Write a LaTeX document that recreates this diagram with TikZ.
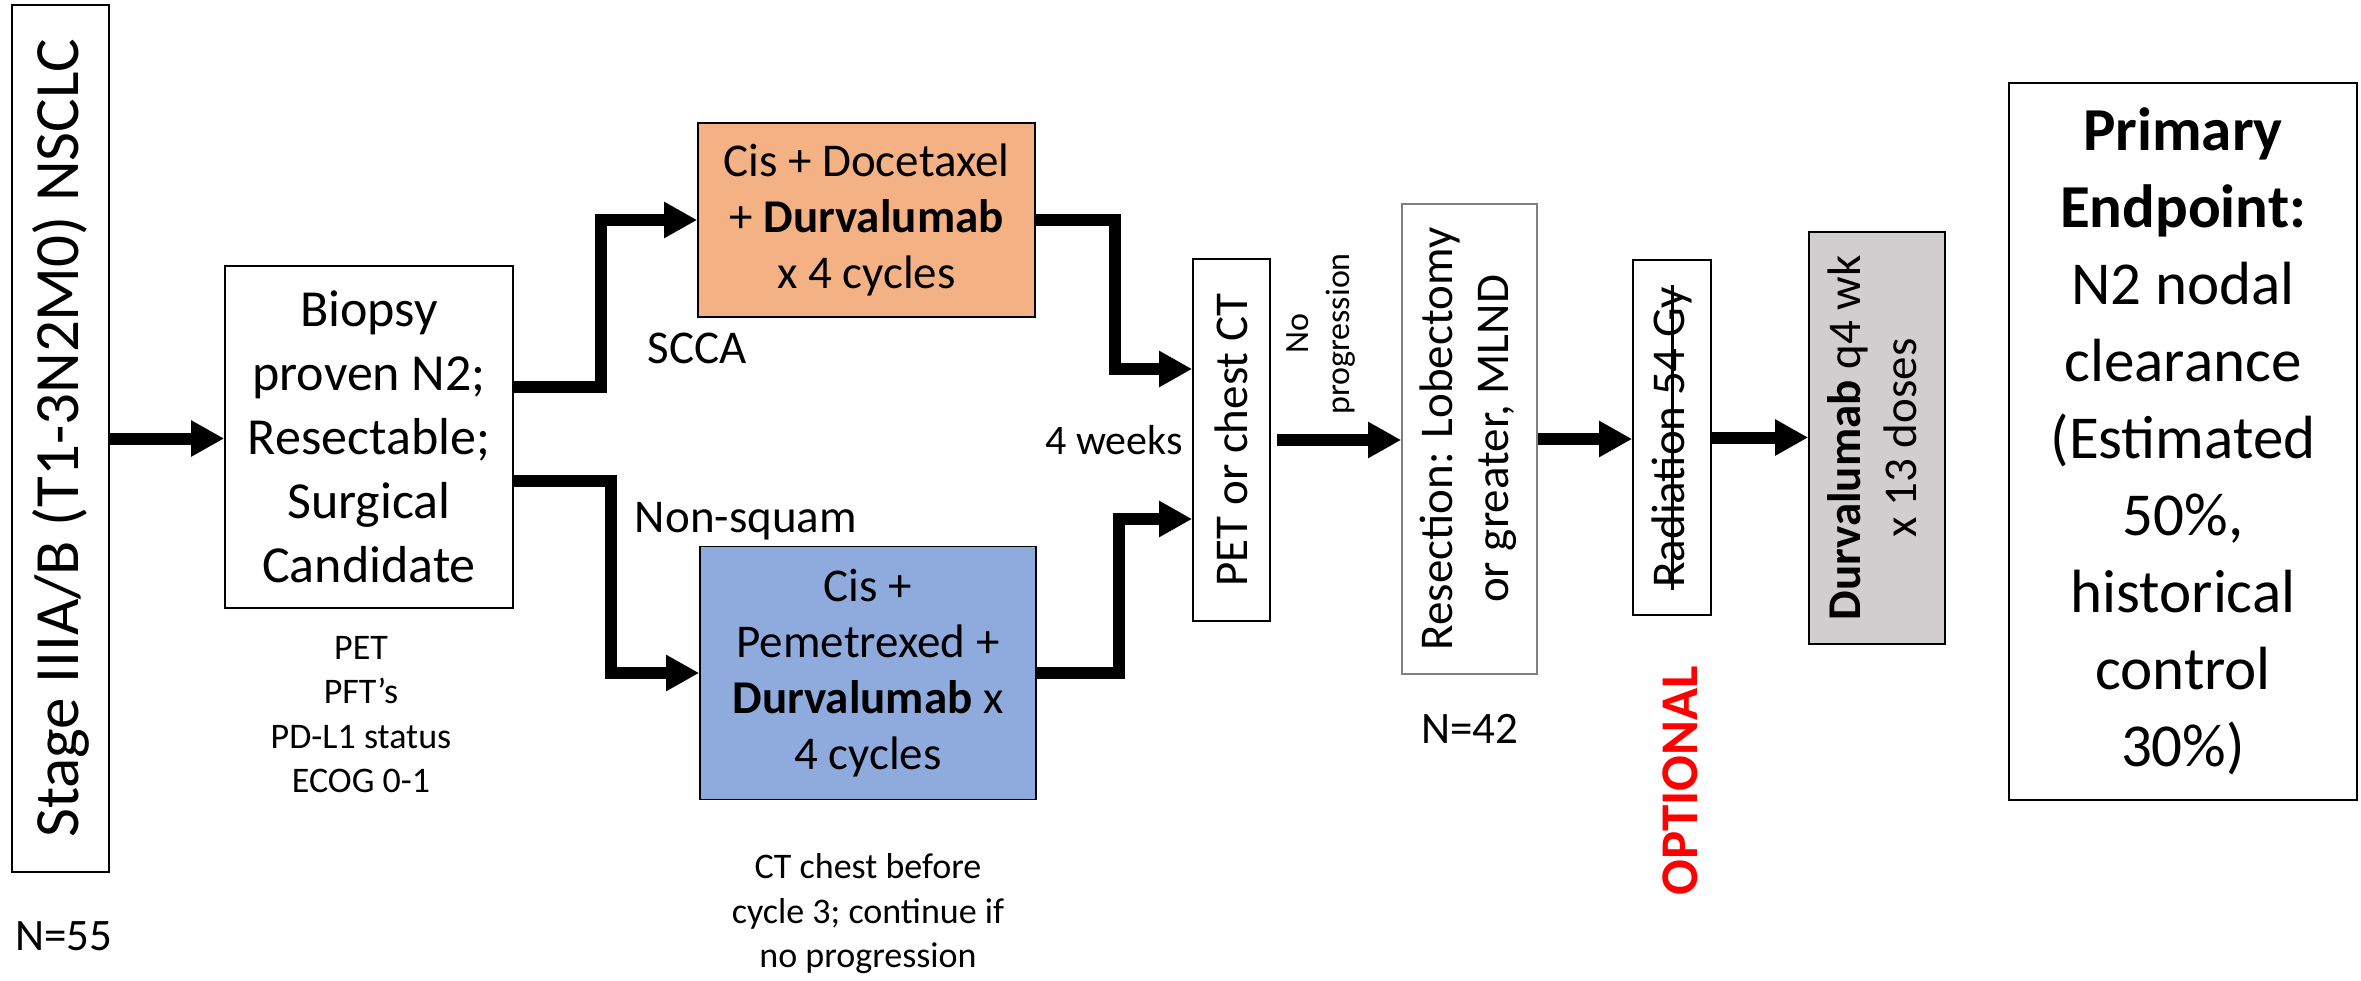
\documentclass[tikz,border=0pt]{standalone}
\usepackage{fontspec}
\setmainfont{Carlito}
\usetikzlibrary{positioning,arrows.meta}
\definecolor{chemoorange}{HTML}{F4B183}
\definecolor{chemoblue}{HTML}{8FAADC}
\definecolor{maintgray}{HTML}{D0CECE}
\definecolor{resectgray}{HTML}{808080}
\definecolor{optred}{HTML}{FF0000}
\newsavebox{\strikebox}
\newcommand{\struck}[1]{\sbox{\strikebox}{#1}%
    \rlap{\hspace*{-2pt}\rule[11pt]{\dimexpr\wd\strikebox+4pt\relax}{2.2pt}}\usebox{\strikebox}}

\begin{document}
\begin{tikzpicture}[x=1pt,y=-1pt,
    box/.style={draw,line width=1.6pt,inner sep=0pt,align=center},
    lbl/.style={inner sep=0pt,align=center},
    txtA/.style={font={\fontsize{52}{64}\selectfont}},
    txtB/.style={font={\fontsize{47}{56}\selectfont}},
    txtC/.style={font={\fontsize{36}{44.5}\selectfont}},
    txtN/.style={font={\fontsize{45}{54}\selectfont}},
    flow/.style={line width=12pt,-{Triangle[length=33pt,width=34pt]}}]
    \useasboundingbox (0,0) rectangle (2361,981);

    \node[box,font={\fontsize{63}{76}\selectfont},minimum width=97pt,minimum height=867pt] (stage) at (60.5,438.5)
        {\rotatebox{90}{Stage IIIA/B (T1-3N2M0) NSCLC}};
    \node[box,txtA,minimum width=288pt,minimum height=342pt] (biopsy) at (369,437)
        {Biopsy\\proven N2;\\Resectable;\\Surgical\\Candidate};
    \node[box,txtB,fill=chemoorange,minimum width=337pt,minimum height=194pt] (chemoA) at (866.5,220)
        {Cis + Docetaxel\\+ \textbf{Durvalumab}\\x 4 cycles};
    \node[box,txtB,fill=chemoblue,minimum width=336pt,minimum height=253pt] (chemoB) at (868,673)
        {Cis +\\Pemetrexed +\\\textbf{Durvalumab} x\\4 cycles};
    \node[box,txtB,minimum width=77pt,minimum height=362pt] (pet) at (1231.5,440)
        {\rotatebox{90}{PET or chest CT}};
    \node[box,txtB,draw=resectgray,minimum width=135pt,minimum height=470pt] (resect) at (1469.5,439)
        {\rotatebox{90}{\begin{tabular}{@{}c@{}}Resection: Lobectomy\\or greater, MLND\end{tabular}}};
    \node[box,txtB,minimum width=78pt,minimum height=355pt] (rad) at (1672,437.5)
        {\rotatebox{90}{\struck{Radiation 54 Gy}}};
    \node[box,txtB,fill=maintgray,minimum width=136pt,minimum height=412pt] (durva) at (1877,438)
        {\rotatebox{90}{\begin{tabular}{@{}c@{}}\textbf{Durvalumab} q4 wk\\x 13 doses\end{tabular}}};
    \node[box,font={\fontsize{61}{77}\selectfont},minimum width=348pt,minimum height=717pt] (endpoint) at (2183,441.5)
        {\textbf{Primary}\\\textbf{Endpoint:}\\N2 nodal\\clearance\\(Estimated\\50\%,\\historical\\control\\30\%)};

    \node[lbl,txtN,anchor=base] (n55) at (64,950) {N=55};
    \node[lbl,txtC,below=27pt of biopsy,xshift=-8pt] (tests) {PET\\PFT’s\\PD-L1 status\\ECOG 0-1};
    \node[lbl,txtB,anchor=base] (scca) at (697,363) {SCCA};
    \node[lbl,txtB,anchor=base] (nonsq) at (746,532) {Non-squam};
    \node[lbl,txtC,below=53pt of chemoB] (ctnote) {CT chest before\\cycle 3; continue if\\no progression};
    \node[lbl,font={\fontsize{42}{50}\selectfont},anchor=base east] (weeks) at (1183,454) {4 weeks};
    \node[lbl,font={\fontsize{34}{41}\selectfont},rotate=90] (noprog) at (1321,334) {No\\progression};
    \node[lbl,txtN,anchor=base] (n42) at (1470,743) {N=42};
    \node[lbl,font={\fontsize{53}{64}\selectfont\bfseries},text=optred,rotate=90] (optional) at (1680,781) {OPTIONAL};

    \draw[flow] (stage.east) -- (stage.east -| biopsy.west);
    \draw[flow] ([yshift=50pt]biopsy.east) -- ++(87,0) |- (chemoA.west);
    \draw[flow] ([yshift=-44pt]biopsy.east) -- ++(97,0) |- (chemoB.west);
    \draw[flow] (chemoA.east) -- ++(79,0) |- ([yshift=71pt]pet.west);
    \draw[flow] (chemoB.east) -- ++(82,0) |- ([yshift=-79pt]pet.west);
    \draw[flow,shorten <=6pt] (pet.east) -- (pet.east -| resect.west);
    \draw[flow] (resect.east) -- (resect.east -| rad.west);
    \draw[flow] (rad.east) -- (rad.east -| durva.west);
\end{tikzpicture}
\end{document}
